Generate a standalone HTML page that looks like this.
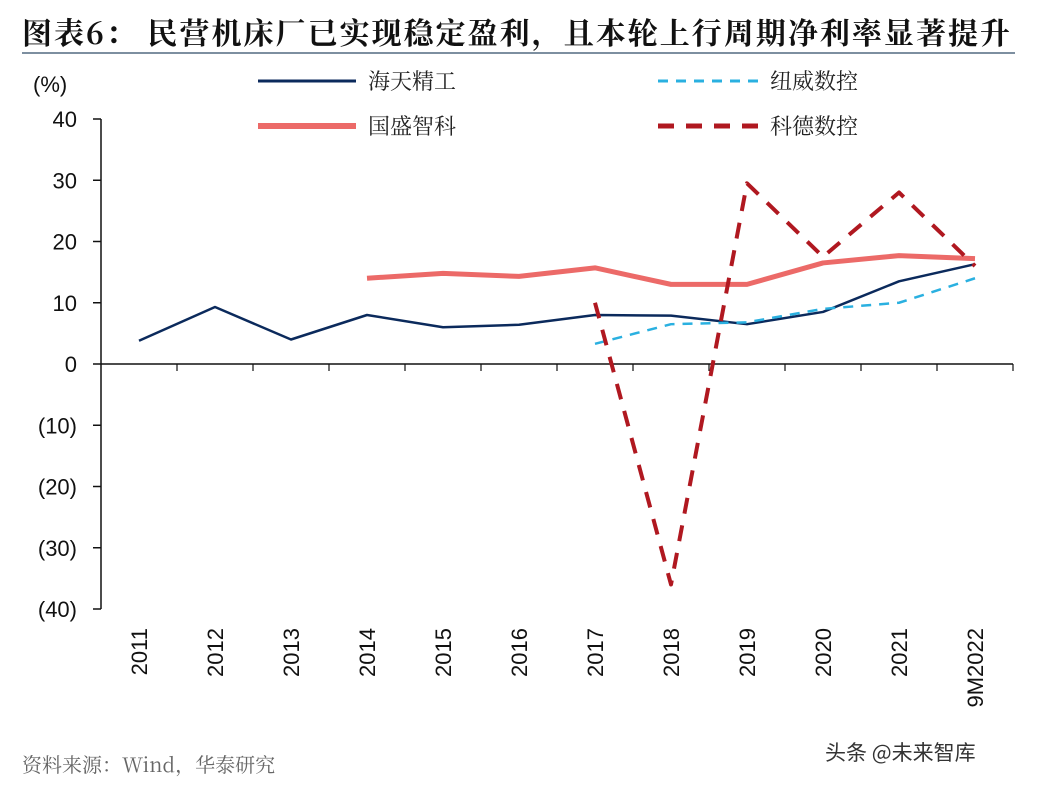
<!DOCTYPE html>
<html><head><meta charset="utf-8"><style>
body{margin:0;background:#fff;width:1038px;height:786px;overflow:hidden;font-family:"Liberation Sans","Noto Sans CJK SC",sans-serif}
</style></head><body>
<svg id="chart" width="1038" height="786" xmlns="http://www.w3.org/2000/svg">
<text x="22" y="44" font-size="30" font-weight="bold" fill="#111" textLength="988" lengthAdjust="spacing" font-family="'Noto Serif CJK SC','Noto Sans CJK SC',serif">图表6：  民营机床厂已实现稳定盈利，且本轮上行周期净利率显著提升</text>
<line x1="22" y1="53" x2="1015" y2="53" stroke="#7d8fa0" stroke-width="2"/>
<text x="33" y="92" font-size="22" fill="#111">(%)</text>
<g id="legend">
<line x1="258" y1="81" x2="356" y2="81" stroke="#0b2a5c" stroke-width="3"/>
<text x="368" y="89" font-size="22" fill="#222" font-family="'Noto Serif CJK SC',serif">海天精工</text>
<line x1="658" y1="81" x2="758" y2="81" stroke="#2ab0e0" stroke-width="3" stroke-dasharray="10,8"/>
<text x="770" y="89" font-size="22" fill="#222" font-family="'Noto Serif CJK SC',serif">纽威数控</text>
<line x1="258" y1="126" x2="356" y2="126" stroke="#ec6a68" stroke-width="6"/>
<text x="368" y="134" font-size="22" fill="#222" font-family="'Noto Serif CJK SC',serif">国盛智科</text>
<line x1="658" y1="126" x2="758" y2="126" stroke="#b01820" stroke-width="5" stroke-dasharray="16,12"/>
<text x="770" y="134" font-size="22" fill="#222" font-family="'Noto Serif CJK SC',serif">科德数控</text>
</g>
<g id="axes"></g>
<g id="series"></g>
<text x="22" y="772" font-size="20" fill="#666" font-family="'Noto Serif CJK SC',serif">资料来源：Wind，华泰研究</text>
<text x="825" y="760" font-size="21" fill="#333" font-family="'Noto Sans CJK SC',sans-serif">头条 @未来智库</text>
</svg>
<script>
const categories=["2011","2012","2013","2014","2015","2016","2017","2018","2019","2020","2021","9M2022"];
const yTicks=[40,30,20,10,0,-10,-20,-30,-40];
const yTickLabels=["40","30","20","10","0","(10)","(20)","(30)","(40)"];
const haitian=[3.8,9.3,4.0,8.0,6.0,6.4,8.0,7.9,6.5,8.5,13.5,16.3];
const niuwei=[null,null,null,null,null,null,3.3,6.5,6.8,9.0,10.0,14.0];
const guosheng=[null,null,null,14.0,14.8,14.3,15.7,13.0,13.0,16.5,17.7,17.2];
const kede=[null,null,null,null,null,null,10.0,-36.0,29.5,17.5,28.0,16.0];
const NS="http://www.w3.org/2000/svg";
const x0=139,dx=76,yZero=364,yUnit=6.125;
const X=i=>x0+i*dx, Y=v=>yZero-v*yUnit;
function mk(tag,attrs,parent){const e=document.createElementNS(NS,tag);for(const k in attrs)e.setAttribute(k,attrs[k]);parent.appendChild(e);return e;}
const axes=document.getElementById('axes');
let a=mk('line',{x1:101,y1:Y(40),x2:101,y2:Y(-40),stroke:'#111','stroke-width':1.5},axes);


yTicks.forEach((t,i)=>{
 let tk=mk('line',{x1:93,y1:Y(t),x2:101,y2:Y(t),stroke:'#111','stroke-width':1.5},axes);
 
 
 let tx=mk('text',{x:77,y:Y(t)+8,'font-size':22,'text-anchor':'end',fill:'#111'},axes);
 tx.textContent=yTickLabels[i];
 
 
});
a=mk('line',{x1:101,y1:yZero,x2:1013,y2:yZero,stroke:'#111','stroke-width':1.5},axes);


categories.forEach((c,i)=>{
 let tk=mk('line',{x1:X(i)+38,y1:yZero,x2:X(i)+38,y2:yZero+7,stroke:'#111','stroke-width':1.2},axes);
 
 
 let tx=mk('text',{x:0,y:0,'font-size':22,'text-anchor':'end',fill:'#111',transform:`translate(${X(i)+8},628) rotate(-90)`},axes);
 tx.textContent=c;
 
 
});
const sg=document.getElementById('series');
function line(data,style,name){
 let pts=[];data.forEach((v,i)=>{if(v!==null)pts.push(X(i)+','+Y(v));});
 let p=mk('polyline',Object.assign({points:pts.join(' '),fill:'none','stroke-linejoin':'round'},style),sg);
 
 
}
line(guosheng,{stroke:'#ec6a68','stroke-width':5},'series-guosheng');
line(haitian,{stroke:'#0b2a5c','stroke-width':2.5},'series-haitian');
line(niuwei,{stroke:'#2ab0e0','stroke-width':2.5,'stroke-dasharray':'10,8'},'series-niuwei');
line(kede,{stroke:'#b01820','stroke-width':4,'stroke-dasharray':'16,12'},'series-kede');
</script>
</body></html>
